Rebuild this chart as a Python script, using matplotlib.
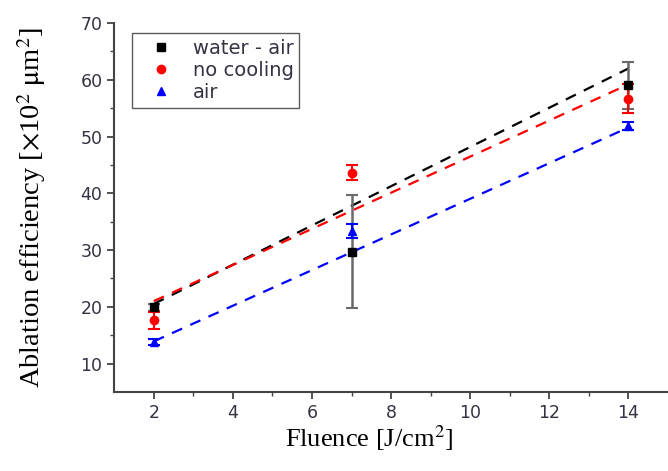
import matplotlib.pyplot as plt
import numpy as np

plt.rcParams['mathtext.fontset'] = 'stix'

# measured points
fluence = np.array([2, 7, 14])
water_air = np.array([19.9, 29.7, 59.0])
water_air_err = np.array([0.6, 10.0, 4.2])
no_cooling = np.array([17.6, 43.6, 56.7])
no_cooling_err = np.array([1.5, 1.3, 2.5])
air = np.array([13.8, 33.4, 51.8])
air_err = np.array([0.6, 1.2, 0.7])

# linear fits (end points)
fit_x = np.array([2, 14])
fit_water_air = np.array([20.5, 62.0])
fit_no_cooling = np.array([21.0, 59.2])
fit_air = np.array([13.9, 51.6])

fig = plt.figure(figsize=(6.68, 4.71), dpi=100)
ax = fig.add_axes([0.171, 0.168, 0.829, 0.783])

ax.plot(fit_x, fit_water_air, '--', color='black', lw=1.6, dashes=(5, 4))
ax.plot(fit_x, fit_no_cooling, '--', color='red', lw=1.6, dashes=(5, 4))
ax.plot(fit_x, fit_air, '--', color='blue', lw=1.6, dashes=(5, 4))

ax.errorbar(fluence, water_air, yerr=water_air_err, fmt='none',
            ecolor='dimgray', elinewidth=1.8, capsize=4, capthick=1.5)
ax.errorbar(fluence, no_cooling, yerr=no_cooling_err, fmt='none',
            ecolor='red', elinewidth=1.5, capsize=4, capthick=1.5)
ax.errorbar(fluence, air, yerr=air_err, fmt='none',
            ecolor='blue', elinewidth=1.5, capsize=4, capthick=1.5)

ax.plot(fluence, water_air, 's', color='black', ms=6, label='water - air')
ax.plot(fluence, no_cooling, 'o', color='red', ms=6, label='no cooling')
ax.plot(fluence, air, '^', color='blue', ms=6, label='air')

ax.set_xlim(1, 15)
ax.set_ylim(5, 70)
ax.set_xticks([2, 4, 6, 8, 10, 12, 14])
ax.set_xticks([3, 5, 7, 9, 11, 13], minor=True)
ax.set_yticks([10, 20, 30, 40, 50, 60, 70])
ax.set_yticks([15, 25, 35, 45, 55, 65], minor=True)

for s in ['top', 'right']:
    ax.spines[s].set_visible(False)
for s in ['left', 'bottom']:
    ax.spines[s].set_color('#444444')
    ax.spines[s].set_linewidth(1.5)

ax.tick_params(which='major', direction='out', length=5, width=1.3,
               colors='#444444', labelcolor='#333344', labelsize=12.5)
ax.tick_params(which='minor', direction='out', length=3, width=1.0,
               colors='#444444')

ax.set_xlabel('Fluence [J/cm$^2$]', family='Liberation Serif', size=19)
ax.xaxis.set_label_coords(0.46, -0.085)
ax.set_ylabel(r'Ablation efficiency [$\times$10$^2$ $\mathrm{\mu}$m$^2$]',
              family='Liberation Serif', size=20.5)
ax.yaxis.set_label_coords(-0.12, 0.50)

leg = ax.legend(loc='upper left', bbox_to_anchor=(0.0325, 0.973), fontsize=14,
                frameon=True, fancybox=False, handletextpad=0.4,
                borderpad=0.3, labelspacing=0.15, handlelength=2.4,
                borderaxespad=0)
leg.get_frame().set_edgecolor('#333333')
leg.get_frame().set_linewidth(1.0)
for t in leg.get_texts():
    t.set_color('#333344')

plt.savefig('out.png', dpi=100)
